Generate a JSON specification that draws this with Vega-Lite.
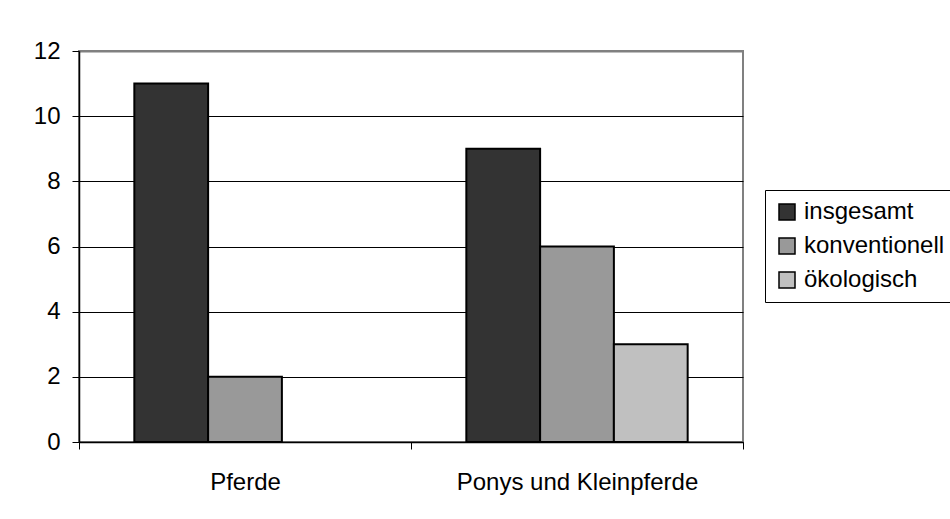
{
  "$schema": "https://vega.github.io/schema/vega-lite/v6.json",
  "width": 664,
  "height": 391,
  "autosize": {"type": "none"},
  "padding": {"left": 79, "top": 51, "right": 207, "bottom": 77},
  "background": "white",
  "config": {
    "font": "Liberation Sans",
    "view": {"stroke": "#808080", "strokeWidth": 2},
    "axis": {"labelFont": "Liberation Sans", "labelColor": "black"}
  },
  "data": {
    "values": [
      {"Tierart": "Pferde", "Kategorie": "insgesamt", "Wert": 11},
      {"Tierart": "Pferde", "Kategorie": "konventionell", "Wert": 2},
      {"Tierart": "Ponys und Kleinpferde", "Kategorie": "insgesamt", "Wert": 9},
      {"Tierart": "Ponys und Kleinpferde", "Kategorie": "konventionell", "Wert": 6},
      {"Tierart": "Ponys und Kleinpferde", "Kategorie": "ökologisch", "Wert": 3}
    ]
  },
  "mark": {"type": "bar", "stroke": "black", "strokeWidth": 2},
  "encoding": {
    "x": {
      "field": "Tierart",
      "type": "nominal",
      "scale": {"paddingInner": 0, "paddingOuter": 0},
      "axis": {
        "title": null,
        "labelAngle": 0,
        "labelFontSize": 24,
        "labelLimit": 0,
        "labelPadding": 21,
        "tickBand": "extent",
        "tickColor": "black",
        "tickSize": 7,
        "domainColor": "black",
        "domainWidth": 1.5,
        "grid": false
      }
    },
    "xOffset": {
      "field": "Kategorie",
      "type": "nominal",
      "scale": {"domain": ["insgesamt", "konventionell", "ökologisch"], "paddingInner": 0, "paddingOuter": 0.75}
    },
    "y": {
      "field": "Wert",
      "type": "quantitative",
      "scale": {"domain": [0, 12], "nice": false},
      "axis": {
        "title": null,
        "values": [0, 2, 4, 6, 8, 10, 12],
        "labelFontSize": 24,
        "labelPadding": 12,
        "tickSize": 7,
        "tickColor": "black",
        "domainColor": "black",
        "domainWidth": 1.5,
        "grid": true,
        "gridColor": {"condition": {"test": "datum.value == 12", "value": "#808080"}, "value": "black"},
        "gridWidth": {"condition": {"test": "datum.value == 12", "value": 2}, "value": 1},
        "gridOpacity": 1
      }
    },
    "color": {
      "field": "Kategorie",
      "type": "nominal",
      "scale": {
        "domain": ["insgesamt", "konventionell", "ökologisch"],
        "range": ["#333333", "#999999", "#c0c0c0"]
      },
      "legend": {
        "title": null,
        "orient": "none",
        "legendX": 686,
        "legendY": 139,
        "strokeColor": "black",
        "fillColor": "white",
        "padding": 10,
        "symbolType": "square",
        "symbolSize": 256,
        "symbolStrokeColor": "black",
        "symbolStrokeWidth": 1.5,
        "symbolOpacity": 1,
        "labelFontSize": 24,
        "labelColor": "black",
        "labelOffset": 5,
        "labelLimit": 0,
        "rowPadding": 10
      }
    }
  }
}
